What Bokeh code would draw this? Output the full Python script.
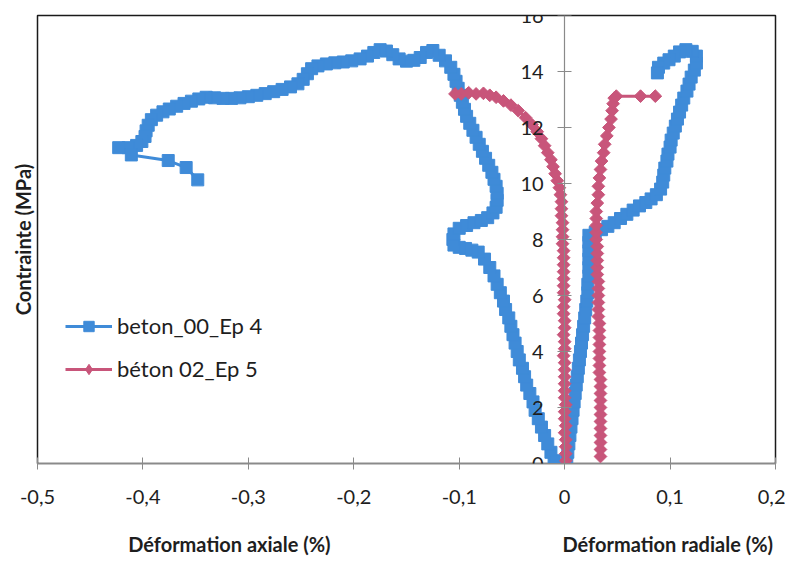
import math
from bokeh.plotting import figure
from bokeh.models import (Range1d, FixedTicker, CustomJSTickFormatter, LinearAxis,
                          Legend, LegendItem)
from bokeh.embed import file_html
from bokeh.resources import INLINE

# ---------------- data ----------------
x_ticks = [-0.5, -0.4, -0.3, -0.2, -0.1, 0.0, 0.1, 0.2]
y_ticks = [0, 2, 4, 6, 8, 10, 12, 14, 16]

series_names = ["beton_00_Ep 4", "béton 02_Ep 5"]
x_title_axial = "Déformation axiale (%)"
x_title_radial = "Déformation radiale (%)"
y_title = "Contrainte (MPa)"

# beton_00_Ep 4 : axial strain (negative side)
blue_axial_x = [-0.010, -0.013, -0.016, -0.019, -0.022, -0.025, -0.028, -0.030, -0.033, -0.036,
                -0.038, -0.040, -0.043, -0.045, -0.047, -0.049, -0.051, -0.053, -0.056, -0.058,
                -0.061, -0.064, -0.067, -0.071, -0.076, -0.082,
                -0.088, -0.094, -0.100, -0.105, -0.106, -0.105, -0.100, -0.093, -0.086, -0.079,
                -0.073, -0.068, -0.065, -0.064, -0.064, -0.065, -0.067, -0.069, -0.072, -0.075,
                -0.078, -0.081, -0.084, -0.087, -0.090, -0.093, -0.095, -0.097, -0.099, -0.101,
                -0.103, -0.105, -0.108, -0.113, -0.119, -0.125, -0.131, -0.137, -0.143, -0.150,
                -0.157, -0.163, -0.169, -0.175, -0.181, -0.187, -0.194, -0.202, -0.210, -0.218,
                -0.226, -0.234, -0.240, -0.244, -0.248, -0.253, -0.260, -0.268, -0.276, -0.284,
                -0.292, -0.300, -0.308, -0.316, -0.324, -0.332, -0.340, -0.347, -0.354, -0.361,
                -0.368, -0.375, -0.381, -0.387, -0.392, -0.395, -0.397, -0.398, -0.401, -0.406,
                -0.414, -0.423, -0.411, -0.376, -0.359, -0.348]
blue_axial_y = [0.10, 0.40, 0.70, 1.00, 1.30, 1.60, 1.90, 2.20, 2.50, 2.80,
                3.10, 3.40, 3.70, 4.00, 4.30, 4.60, 4.90, 5.20, 5.50, 5.80,
                6.10, 6.40, 6.70, 7.00, 7.30, 7.55,
                7.62, 7.68, 7.72, 7.80, 8.00, 8.20, 8.40, 8.50, 8.60, 8.68,
                8.78, 8.95, 9.15, 9.40, 9.65, 9.90, 10.15, 10.40, 10.65, 10.90,
                11.15, 11.40, 11.65, 11.90, 12.15, 12.40, 12.65, 12.90, 13.15, 13.40,
                13.65, 13.90, 14.15, 14.38, 14.58, 14.75, 14.68, 14.50, 14.40, 14.37,
                14.45, 14.60, 14.73, 14.78, 14.68, 14.55, 14.45, 14.38, 14.34, 14.31,
                14.27, 14.20, 14.10, 13.92, 13.72, 13.56, 13.45, 13.36, 13.28, 13.21,
                13.15, 13.10, 13.06, 13.04, 13.04, 13.06, 13.08, 13.02, 12.94, 12.86,
                12.76, 12.66, 12.56, 12.44, 12.28, 12.08, 11.88, 11.68, 11.50, 11.36,
                11.28, 11.28, 11.02, 10.82, 10.57, 10.13]

# beton_00_Ep 4 : radial strain (positive side)
blue_radial_x = [0.002, 0.003, 0.004, 0.005, 0.006, 0.007, 0.008, 0.009, 0.010, 0.011,
                 0.012, 0.013, 0.014, 0.015, 0.016, 0.017, 0.018, 0.019, 0.020, 0.021,
                 0.022, 0.022, 0.023, 0.023, 0.023, 0.023, 0.023, 0.023, 0.029, 0.035,
                 0.041, 0.047, 0.053, 0.059, 0.065, 0.071, 0.077, 0.082, 0.087, 0.091,
                 0.093, 0.094, 0.095, 0.097, 0.098, 0.100, 0.101, 0.103, 0.105, 0.107,
                 0.109, 0.111, 0.113, 0.116, 0.118, 0.120, 0.123, 0.125, 0.125, 0.121,
                 0.115, 0.109, 0.104, 0.099, 0.094, 0.089, 0.088]
blue_radial_y = [0.10, 0.40, 0.70, 1.00, 1.30, 1.60, 1.90, 2.20, 2.50, 2.80,
                 3.10, 3.40, 3.70, 4.00, 4.30, 4.60, 4.90, 5.20, 5.50, 5.80,
                 6.10, 6.40, 6.70, 7.00, 7.30, 7.60, 7.90, 8.15, 8.25, 8.35,
                 8.47, 8.60, 8.75, 8.90, 9.05, 9.20, 9.32, 9.45, 9.60, 9.80,
                 10.05, 10.30, 10.55, 10.80, 11.05, 11.30, 11.55, 11.80, 12.05, 12.30,
                 12.55, 12.80, 13.05, 13.30, 13.55, 13.80, 14.05, 14.30, 14.55, 14.72,
                 14.78, 14.70, 14.55, 14.42, 14.30, 14.15, 13.95]

# béton 02_Ep 5 : axial strain
red_axial_x = [0.001, 0.001, 0.001, 0.001, 0.000, 0.001, 0.000, 0.000, 0.001, 0.000,
               0.000, 0.000, 0.000, 0.000, 0.000, -0.001, 0.000, 0.000, -0.001, 0.000,
               0.000, -0.001, -0.001, 0.000, -0.001, -0.001, -0.001, -0.001, -0.001, -0.001,
               -0.001, -0.002, -0.002, -0.002, -0.002, -0.003, -0.003, -0.003, -0.004,
               -0.005, -0.007, -0.009, -0.011, -0.013, -0.016, -0.019, -0.022, -0.026, -0.031,
               -0.037, -0.044, -0.051, -0.058, -0.065, -0.071, -0.077, -0.084, -0.091, -0.098,
               -0.104]
red_axial_y = [0.10, 0.35, 0.60, 0.85, 1.10, 1.35, 1.60, 1.85, 2.10, 2.35,
               2.60, 2.85, 3.10, 3.35, 3.60, 3.85, 4.10, 4.35, 4.60, 4.85,
               5.10, 5.35, 5.60, 5.85, 6.10, 6.35, 6.60, 6.85, 7.10, 7.35,
               7.60, 7.85, 8.10, 8.35, 8.60, 8.85, 9.10, 9.35, 9.60,
               9.85, 10.10, 10.35, 10.60, 10.85, 11.10, 11.35, 11.60, 11.85, 12.10,
               12.35, 12.60, 12.80, 12.95, 13.08, 13.15, 13.22, 13.20, 13.24, 13.20,
               13.20]

# béton 02_Ep 5 : radial strain
red_radial_x = [0.034, 0.034, 0.034, 0.034, 0.034, 0.034, 0.034, 0.034, 0.034, 0.034,
                0.034, 0.034, 0.033, 0.033, 0.033, 0.033, 0.033, 0.033, 0.033, 0.033,
                0.032, 0.032, 0.032, 0.032, 0.032, 0.032, 0.031, 0.031, 0.031, 0.031,
                0.031, 0.030, 0.030, 0.030, 0.030, 0.030,
                0.031, 0.032, 0.032, 0.033, 0.034, 0.035, 0.037, 0.038, 0.040, 0.042,
                0.044, 0.045, 0.046, 0.047, 0.049, 0.072, 0.086]
red_radial_y = [0.25, 0.50, 0.75, 1.00, 1.25, 1.50, 1.75, 2.00, 2.25, 2.50,
                2.75, 3.00, 3.25, 3.50, 3.75, 4.00, 4.25, 4.50, 4.75, 5.00,
                5.25, 5.50, 5.75, 6.00, 6.25, 6.50, 6.75, 7.00, 7.25, 7.50,
                7.75, 8.00, 8.25, 8.50, 8.75, 9.00,
                9.30, 9.60, 9.90, 10.20, 10.50, 10.80, 11.10, 11.40, 11.70, 12.00,
                12.30, 12.60, 12.85, 13.05, 13.12, 13.12, 13.12]

# ---------------- styling ----------------
BLUE = "#3f8bd8"
RED = "#c8557a"
FONT = "Lato"
TXT = "#1e1e1e"

p = figure(width=785, height=560,
           x_range=Range1d(-0.5, 0.2), y_range=Range1d(0, 16),
           output_backend="svg", toolbar_location=None,
           min_border_left=37, min_border_right=10,
           min_border_top=15, min_border_bottom=97)
p.grid.visible = False
p.background_fill_color = "white"
p.border_fill_color = "white"
p.outline_line_color = "#1a1a1a"
p.outline_line_width = 1.5

fmt_x = CustomJSTickFormatter(code="""
if (Math.abs(tick) < 1e-9) { return "0"; }
return tick.toFixed(1).replace(".", ",");
""")
fmt_y = CustomJSTickFormatter(code="return Math.round(tick).toString();")

xa = p.xaxis[0]
xa.ticker = FixedTicker(ticks=x_ticks)
xa.formatter = fmt_x
xa.axis_line_color = "#8a8a8a"
xa.axis_line_width = 1.2
xa.major_tick_line_color = "#8a8a8a"
xa.major_tick_in = 6
xa.major_tick_out = 6
xa.minor_tick_line_color = None
xa.major_label_standoff = 20
xa.major_label_text_font = FONT
xa.major_label_text_font_size = "20px"
xa.major_label_text_color = TXT

ya = p.yaxis[0]
ya.fixed_location = 0
ya.ticker = FixedTicker(ticks=y_ticks)
ya.formatter = fmt_y
ya.axis_line_color = "#8a8a8a"
ya.axis_line_width = 1.2
ya.major_tick_line_color = "#8a8a8a"
ya.major_tick_in = 7
ya.major_tick_out = 7
ya.minor_tick_line_color = None
ya.major_label_standoff = 14
ya.major_label_text_font = FONT
ya.major_label_text_font_size = "20px"
ya.major_label_text_color = TXT

# axis titles: extra tick-less axes in the side panels
p.extra_x_ranges = {"titles": Range1d(0, 1)}
title_axis = LinearAxis(x_range_name="titles",
                        ticker=FixedTicker(ticks=[0.26, 0.854]),
                        major_label_overrides={0.26: x_title_axial, 0.854: x_title_radial},
                        axis_line_color=None, major_tick_line_color=None,
                        minor_tick_line_color=None,
                        major_tick_in=0, major_tick_out=0, major_label_standoff=25,
                        major_label_text_font=FONT, major_label_text_font_style="bold",
                        major_label_text_font_size="20px", major_label_text_color=TXT)
p.add_layout(title_axis, "below")

y_title_axis = LinearAxis(ticker=FixedTicker(ticks=[]), axis_label=y_title,
                          axis_line_color=None, major_tick_line_color=None,
                          minor_tick_line_color=None, major_tick_in=0, major_tick_out=0,
                          major_label_standoff=0, major_label_text_font_size="0px",
                          axis_label_standoff=3,
                          axis_label_text_font=FONT, axis_label_text_font_style="bold",
                          axis_label_text_font_size="20px", axis_label_text_color=TXT)
p.add_layout(y_title_axis, "left")

# blue series
bl1 = p.line(blue_axial_x, blue_axial_y, line_color=BLUE, line_width=3)
bs1 = p.scatter(blue_axial_x, blue_axial_y, marker="square", size=12,
                fill_color=BLUE, line_color=BLUE)
bl2 = p.line(blue_radial_x, blue_radial_y, line_color=BLUE, line_width=3)
bs2 = p.scatter(blue_radial_x, blue_radial_y, marker="square", size=12,
                fill_color=BLUE, line_color=BLUE)

# red series (diamonds = rotated squares)
rl1 = p.line(red_axial_x, red_axial_y, line_color=RED, line_width=3)
rs1 = p.scatter(red_axial_x, red_axial_y, marker="square", size=9, angle=math.pi / 4,
                fill_color=RED, line_color=RED)
rl2 = p.line(red_radial_x, red_radial_y, line_color=RED, line_width=3)
rs2 = p.scatter(red_radial_x, red_radial_y, marker="square", size=9, angle=math.pi / 4,
                fill_color=RED, line_color=RED)

# legend key markers (drawn on the first point of each series, hidden under it)
blue_key = p.scatter(blue_axial_x[:1], blue_axial_y[:1], marker="square", size=9,
                     fill_color=BLUE, line_color=BLUE)
red_key = p.scatter(red_axial_x[:1], red_axial_y[:1], marker="diamond", size=13,
                    fill_color=RED, line_color=RED)

legend = Legend(items=[LegendItem(label=series_names[0], renderers=[bl1, blue_key]),
                       LegendItem(label=series_names[1], renderers=[rl1, red_key])],
                location=(28, 81), orientation="vertical",
                border_line_color=None, background_fill_alpha=0,
                padding=0, margin=0, spacing=16,
                glyph_height=26, glyph_width=47, label_height=26, label_standoff=5,
                label_text_font=FONT, label_text_font_size="22px", label_text_color=TXT)
p.add_layout(legend)

open("out.html", "w").write(file_html(p, INLINE))
